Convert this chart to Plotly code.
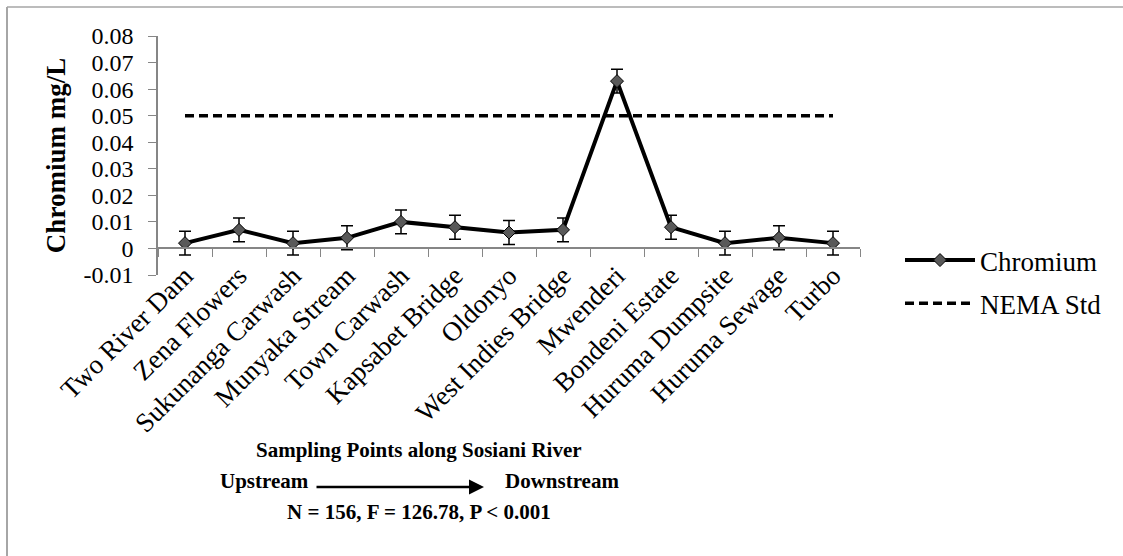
import plotly.graph_objects as go

# ---------------- data ----------------
sites = ["Two River Dam", "Zena Flowers", "Sukunanga Carwash", "Munyaka Stream",
         "Town Carwash", "Kapsabet Bridge", "Oldonyo", "West Indies Bridge",
         "Mwenderi", "Bondeni Estate", "Huruma Dumpsite", "Huruma Sewage", "Turbo"]
chromium = [0.002, 0.007, 0.002, 0.004, 0.010, 0.008, 0.006, 0.007,
            0.063, 0.008, 0.002, 0.004, 0.002]
chromium_err = [0.0045, 0.0045, 0.0045, 0.0045, 0.0045, 0.0045, 0.0045, 0.0045,
                0.0045, 0.0045, 0.0045, 0.0045, 0.0045]
nema_std = [0.05] * len(sites)
y_tickvals = [-0.01, 0, 0.01, 0.02, 0.03, 0.04, 0.05, 0.06, 0.07, 0.08]
y_ticktext = ["-0.01", "0", "0.01", "0.02", "0.03", "0.04", "0.05", "0.06", "0.07", "0.08"]

# ---------------- layout geometry ----------------
W, H = 1123, 556
ML, MR, MT, MB = 158, 263, 36, 281
PW, PH = W - ML - MR, H - MT - MB
Y_MIN, Y_MAX = -0.01, 0.08


def px_x(x):
    return (x - ML) / PW


def px_y(y):
    return (H - MB - y) / PH


SERIF = "Liberation Serif"

fig = go.Figure()
fig.add_trace(go.Scatter(
    x=sites, y=chromium, name="Chromium", mode="lines+markers", legendgroup="a",
    line=dict(color="black", width=4),
    marker=dict(symbol="diamond", size=10, color="#595959",
                line=dict(color="black", width=1)),
    error_y=dict(type="data", array=chromium_err, visible=True,
                 color="black", thickness=1.5, width=6),
))
fig.add_trace(go.Scatter(
    x=sites, y=nema_std, name="NEMA Std", mode="lines", legendgroup="b",
    line=dict(color="black", width=3.5, dash="9px,5px"),
))

fig.update_layout(
    width=W, height=H,
    margin=dict(l=ML, r=MR, t=MT, b=MB, pad=0),
    paper_bgcolor="white", plot_bgcolor="white",
    font=dict(family=SERIF, size=27, color="black"),
    showlegend=True,
    legend=dict(x=px_x(900), y=px_y(236), xanchor="left", yanchor="top",
                font=dict(family=SERIF, size=27, color="black"),
                bgcolor="rgba(0,0,0,0)", itemwidth=70, tracegroupgap=5),
    xaxis=dict(
        type="category", range=[-0.5, len(sites) - 0.5],
        anchor="free", position=(0 - Y_MIN) / (Y_MAX - Y_MIN),
        showline=True, linecolor="#868686", linewidth=1.5,
        ticks="outside", ticklen=8, tickcolor="#868686", tickwidth=1,
        tickson="boundaries", tickangle=-45, showgrid=False, zeroline=False,
        tickfont=dict(family=SERIF, size=27, color="black"),
    ),
    yaxis=dict(
        range=[Y_MIN, Y_MAX], tickvals=y_tickvals, ticktext=y_ticktext,
        showline=True, linecolor="#868686", linewidth=1.5,
        ticks="outside", ticklen=8, tickcolor="#868686", tickwidth=1,
        showgrid=False, zeroline=False, ticklabelstandoff=10,
        tickfont=dict(family=SERIF, size=24, color="black"),
        title=dict(text="<b>Chromium mg/L</b>", standoff=10,
                   font=dict(family=SERIF, size=27, color="black")),
    ),
)

ann_font = dict(family=SERIF, size=21, color="black")
fig.add_annotation(text="<b>Sampling Points along Sosiani River</b>", xref="paper", yref="paper",
                   x=px_x(419), y=px_y(450), showarrow=False, font=ann_font,
                   xanchor="center", yanchor="middle")
fig.add_annotation(text="<b>Upstream</b>", xref="paper", yref="paper",
                   x=px_x(264), y=px_y(481), showarrow=False, font=ann_font,
                   xanchor="center", yanchor="middle")
fig.add_annotation(text="<b>Downstream</b>", xref="paper", yref="paper",
                   x=px_x(562), y=px_y(481), showarrow=False, font=ann_font,
                   xanchor="center", yanchor="middle")
fig.add_annotation(text="<b>N = 156, F = 126.78, P < 0.001</b>", xref="paper", yref="paper",
                   x=px_x(419), y=px_y(512), showarrow=False, font=ann_font,
                   xanchor="center", yanchor="middle")
fig.add_annotation(text="", xref="paper", yref="paper",
                   x=px_x(484), y=px_y(487), ax=-(484 - 315), ay=0,
                   showarrow=True, arrowhead=2, arrowsize=1.2, arrowwidth=2.5,
                   arrowcolor="black")

# outer frame (top and left edges)
fig.add_shape(type="line", xref="paper", yref="paper",
              x0=px_x(7), y0=px_y(7), x1=px_x(W), y1=px_y(7),
              line=dict(color="#a6a6a6", width=1.5))
fig.add_shape(type="line", xref="paper", yref="paper",
              x0=px_x(7), y0=px_y(7), x1=px_x(7), y1=px_y(H),
              line=dict(color="#a6a6a6", width=2))

fig.write_html("out.html")
